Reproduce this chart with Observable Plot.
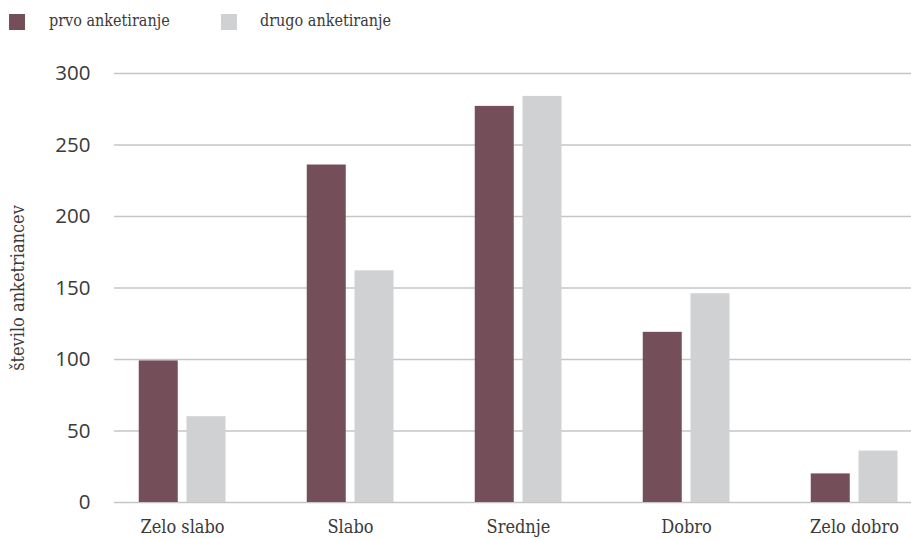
<!DOCTYPE html>
<html>
<head>
<meta charset="utf-8">
<script src="https://cdn.jsdelivr.net/npm/d3@7"></script>
<script src="https://cdn.jsdelivr.net/npm/@observablehq/plot@0.6"></script>
<style>
  html, body { margin: 0; padding: 0; background: #fff; }
  #legend { height: 45px; position: relative; font-family: "DejaVu Serif Condensed", "DejaVu Serif", serif; font-size: 16px; color: #3a3a3a; }
</style>
</head>
<body>
<div id="legend"></div>
<div id="chart"></div>
<script>
const categories = ["Zelo slabo", "Slabo", "Srednje", "Dobro", "Zelo dobro"];
const prvo = [99, 236, 277, 119, 20];
const drugo = [60, 162, 284, 146, 36];
const seriesNames = ["prvo anketiranje", "drugo anketiranje"];
const seriesColors = ["#744e59", "#d0d1d3"];
const yTicks = [0, 50, 100, 150, 200, 250, 300];
const yLabel = "število anketriancev";

// legend
const legend = document.getElementById("legend");
const legPos = [[9, 49], [221, 260]];
seriesNames.forEach((name, i) => {
  const sw = document.createElement("div");
  sw.style.cssText = `position:absolute;left:${legPos[i][0]}px;top:14px;width:16px;height:16px;background:${seriesColors[i]}`;
  legend.appendChild(sw);
  const t = document.createElement("div");
  t.textContent = name;
  t.style.cssText = `position:absolute;left:${legPos[i][1]}px;top:11px;white-space:nowrap;`;
  legend.appendChild(t);
});

const data1 = categories.map((c, i) => ({cat: c, v: prvo[i]}));
const data2 = categories.map((c, i) => ({cat: c, v: drugo[i]}));

const chart = Plot.plot({
  width: 911,
  height: 494,
  marginLeft: 114,
  marginRight: 0,
  marginTop: 28,
  marginBottom: 37,
  style: {fontFamily: "DejaVu Serif Condensed, DejaVu Serif, serif", color: "#3a3a3a", background: "#fff"},
  x: {type: "band", domain: categories, range: [96.5, 939], padding: 0, label: null},
  y: {domain: [0, 300], label: null},
  marks: [
    Plot.gridY(yTicks, {stroke: "#c6c6c6", strokeOpacity: 1, strokeWidth: 1.5}),
    Plot.barY(data1, {x: "cat", y: "v", fill: seriesColors[0], insetLeft: 40.75, insetRight: 88.25}),
    Plot.barY(data2, {x: "cat", y: "v", fill: seriesColors[1], insetLeft: 88.5, insetRight: 40.5}),
    Plot.axisY(yTicks, {tickSize: 0, tickPadding: 24, fontSize: 20.5, fontFamily: "Open Sans, sans-serif", fontWeight: 400, fill: "#3a3a3a", label: null}),
    Plot.axisX({tickSize: 0, tickPadding: 18, fontSize: 18, fill: "#3a3a3a", label: null}),
    Plot.text([yLabel], {frameAnchor: "left", rotate: -90, dx: -96, fontSize: 18, fill: "#3a3a3a", textAnchor: "middle", lineAnchor: "middle"})
  ]
});
document.getElementById("chart").appendChild(chart);
</script>
</body>
</html>
